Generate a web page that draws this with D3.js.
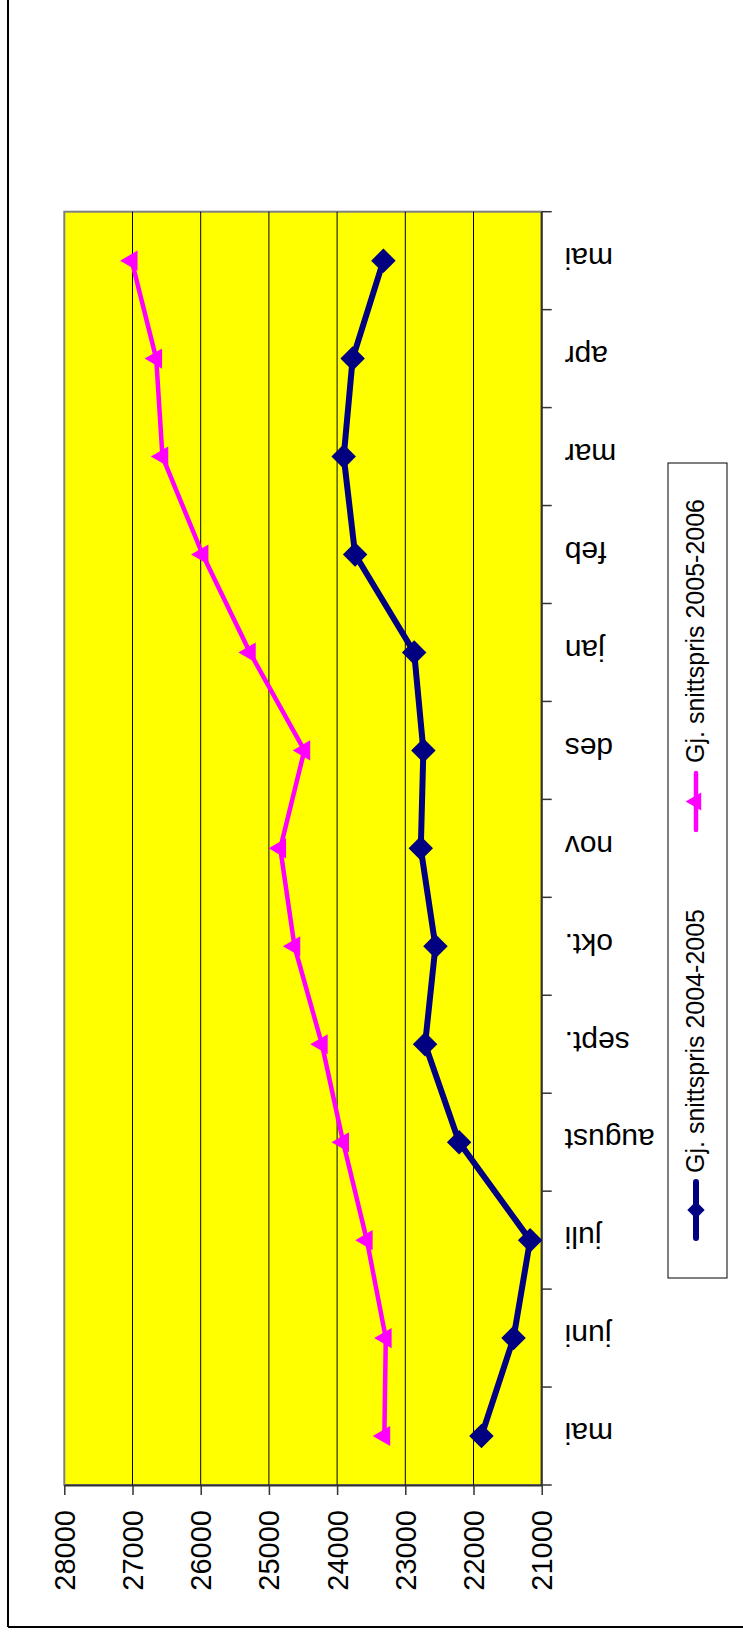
<!DOCTYPE html>
<html lang="no">
<head>
    <meta charset="UTF-8">
    <title>Gj. snittspris</title>
    <script src="https://d3js.org/d3.v7.min.js"></script>
    <style>
        body { margin: 0; background: #fff; }
        text { font-family: "Liberation Sans", Arial, sans-serif; fill: #000; }
    </style>
</head>
<body>
    <svg width="743" height="1634"></svg>

    <script>
        // Data (months May to May)
        const categories = ["mai", "juni", "juli", "august", "sept.", "okt.", "nov", "des", "jan", "feb", "mar", "apr", "mai"];
        const price0405 = [21884, 21413, 21170, 22211, 22710, 22558, 22773, 22735, 22870, 23736, 23903, 23772, 23321];
        const price0506 = [23307, 23286, 23564, 23911, 24223, 24625, 24833, 24480, 25278, 25972, 26561, 26652, 27012];
        const valueTicks = [21000, 22000, 23000, 24000, 25000, 26000, 27000, 28000];
        const seriesNames = ["Gj. snittspris 2004-2005", "Gj. snittspris 2005-2006"];

        const width = 743;
        const height = 1634;
        // the chart is drawn turned a quarter turn: values run right to left, months bottom to top
        const plot = {left: 64.3, right: 541.7, top: 211.7, bottom: 1485};

        const svg = d3.select("svg")
            .attr("width", width)
            .attr("height", height);

        // outer frame (only left and bottom edges are visible)
        svg.append("line").attr("x1", 8).attr("x2", 8).attr("y1", 0).attr("y2", 1627)
            .attr("stroke", "#000").attr("stroke-width", 2);
        svg.append("line").attr("x1", 8).attr("x2", width).attr("y1", 1627).attr("y2", 1627)
            .attr("stroke", "#000").attr("stroke-width", 2);

        // scales
        const x = d3.scaleLinear()
            .domain([21000, 28000])
            .range([plot.right, plot.left]);

        const y = d3.scaleBand()
            .domain(d3.range(categories.length))
            .range([plot.bottom, plot.top]);

        const yc = i => y(i) + y.bandwidth() / 2;

        // plot background
        svg.append("rect")
            .attr("x", plot.left)
            .attr("y", plot.top)
            .attr("width", plot.right - plot.left)
            .attr("height", plot.bottom - plot.top)
            .attr("fill", "#FFFF00")
            .attr("stroke", "#808080")
            .attr("stroke-width", 2);

        // gridlines
        svg.append("g")
            .selectAll("line")
            .data(valueTicks.slice(1, -1))
            .join("line")
            .attr("x1", d => x(d)).attr("x2", d => x(d))
            .attr("y1", plot.top).attr("y2", plot.bottom)
            .attr("stroke", "#000")
            .attr("stroke-width", 1);

        // value axis (bottom)
        const xAxis = svg.append("g")
            .attr("transform", `translate(0,${plot.bottom})`)
            .call(d3.axisBottom(x).tickValues(valueTicks).tickSize(10).tickSizeOuter(0).tickFormat(d3.format("d")));
        xAxis.select(".domain").attr("stroke", "#333").attr("stroke-width", 2);
        xAxis.selectAll(".tick line").attr("stroke", "#333").attr("stroke-width", 1.5);
        xAxis.selectAll(".tick text")
            .attr("transform", "rotate(-90)")
            .attr("x", -25)
            .attr("y", 10)
            .attr("dy", 0)
            .attr("text-anchor", "end")
            .style("font-size", "29px")
            .style("font-family", "'Liberation Sans', Arial, sans-serif");

        // category axis (right side)
        const catAxis = svg.append("g");
        catAxis.append("line")
            .attr("x1", plot.right).attr("x2", plot.right)
            .attr("y1", plot.top).attr("y2", plot.bottom)
            .attr("stroke", "#333").attr("stroke-width", 2);

        const bounds = d3.range(categories.length).map(i => y(i)).concat([plot.bottom]);
        catAxis.selectAll(".cat-tick")
            .data(bounds)
            .join("line")
            .attr("class", "cat-tick")
            .attr("x1", plot.right).attr("x2", plot.right + 10)
            .attr("y1", d => d).attr("y2", d => d)
            .attr("stroke", "#333").attr("stroke-width", 1.5);

        catAxis.selectAll(".cat-label")
            .data(categories)
            .join("text")
            .attr("class", "cat-label")
            .attr("transform", (d, i) => `translate(${plot.right + 23},${yc(i) - 12.7}) rotate(180)`)
            .attr("text-anchor", "end")
            .style("font-size", "30px")
            .text(d => d);

        // series
        const line = d3.line()
            .x(d => x(d))
            .y((d, i) => yc(i));

        const diamond = d3.symbol().type(d3.symbolSquare);
        const triangle = d3.symbol().type(d3.symbolTriangle);

        svg.append("path")
            .datum(price0506)
            .attr("d", line)
            .attr("fill", "none")
            .attr("stroke", "#FF00FF")
            .attr("stroke-width", 4.5)
            .attr("stroke-linejoin", "round");

        svg.append("path")
            .datum(price0405)
            .attr("d", line)
            .attr("fill", "none")
            .attr("stroke", "#000080")
            .attr("stroke-width", 6)
            .attr("stroke-linejoin", "round");

        svg.append("g")
            .selectAll("path")
            .data(price0506)
            .join("path")
            .attr("d", triangle.size(175))
            .attr("transform", (d, i) => `translate(${x(d)},${yc(i)}) rotate(-90)`)
            .attr("fill", "#FF00FF");

        svg.append("g")
            .selectAll("path")
            .data(price0405)
            .join("path")
            .attr("d", diamond.size(300))
            .attr("transform", (d, i) => `translate(${x(d)},${yc(i)}) rotate(45)`)
            .attr("fill", "#000080");

        // legend
        svg.append("rect")
            .attr("x", 668).attr("y", 463)
            .attr("width", 59).attr("height", 815)
            .attr("fill", "#fff")
            .attr("stroke", "#000")
            .attr("stroke-width", 1);

        const legendItems = [
            {name: seriesNames[0], color: "#000080", lineW: 6, y0: 1238, y1: 1182, mark: diamond.size(150)(), rot: 45, textY: 1173},
            {name: seriesNames[1], color: "#FF00FF", lineW: 4.5, y0: 830, y1: 773, mark: triangle.size(140)(), rot: -90, textY: 763}
        ];

        legendItems.forEach(item => {
            svg.append("line")
                .attr("x1", 696).attr("x2", 696)
                .attr("y1", item.y0).attr("y2", item.y1)
                .attr("stroke", item.color)
                .attr("stroke-width", item.lineW)
                .attr("stroke-linecap", "round");
            svg.append("path")
                .attr("d", item.mark)
                .attr("transform", `translate(696,${(item.y0 + item.y1) / 2}) rotate(${item.rot})`)
                .attr("fill", item.color);
            svg.append("text")
                .attr("transform", `translate(704,${item.textY}) rotate(-90)`)
                .attr("text-anchor", "start")
                .style("font-size", "25px")
                .text(item.name);
        });
    </script>
</body>
</html>
